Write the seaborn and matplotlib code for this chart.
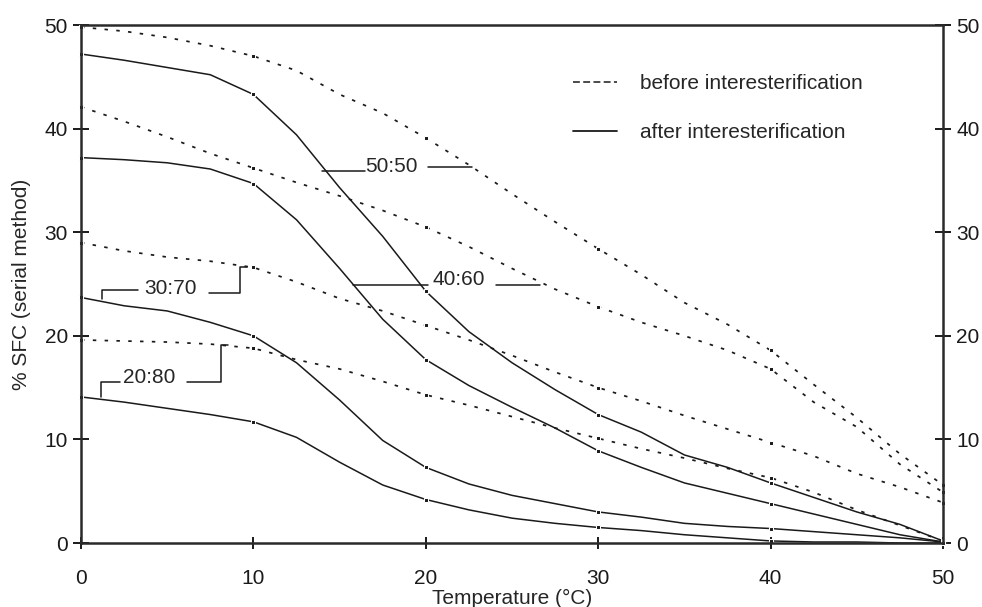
import pandas as pd
import seaborn as sns
import matplotlib.pyplot as plt
from matplotlib.lines import Line2D

# Temperatura (°C) e % SFC
temps = [0, 2.5, 5, 7.5, 10, 12.5, 15, 17.5, 20, 22.5, 25,
         27.5, 30, 32.5, 35, 37.5, 40, 42.5, 45, 47.5, 50]

# antes da interesterificação
before_50_50 = [49.8, 49.4, 48.8, 48.0, 47.0, 45.6, 43.3, 41.5, 39.1, 36.5, 33.7,
                31.0, 28.4, 25.9, 23.2, 21.1, 18.6, 15.3, 12.1, 8.6, 5.6]
before_40_60 = [42.1, 40.7, 39.2, 37.6, 36.2, 34.8, 33.5, 32.1, 30.5, 28.6, 26.5,
                24.5, 22.8, 21.3, 20.0, 18.6, 16.8, 13.6, 11.2, 7.6, 4.9]
before_30_70 = [29.0, 28.2, 27.6, 27.2, 26.6, 25.2, 23.6, 22.4, 21.0, 19.6, 18.1,
                16.5, 15.0, 13.7, 12.3, 11.0, 9.7, 8.4, 6.7, 5.4, 3.9]
before_20_80 = [19.6, 19.5, 19.4, 19.2, 18.8, 17.7, 16.8, 15.6, 14.3, 13.3, 12.2,
                11.1, 10.1, 9.1, 8.2, 7.2, 6.3, 4.9, 3.2, 1.7, 0.2]

# depois da interesterificação
after_50_50 = [47.2, 46.6, 45.9, 45.2, 43.3, 39.4, 34.3, 29.6, 24.3, 20.4, 17.4,
               14.8, 12.4, 10.7, 8.5, 7.3, 5.8, 4.4, 3.0, 1.8, 0.2]
after_40_60 = [37.2, 37.0, 36.7, 36.1, 34.7, 31.2, 26.5, 21.6, 17.7, 15.2, 13.1,
               11.1, 8.9, 7.3, 5.8, 4.8, 3.8, 2.8, 1.8, 0.8, 0.1]
after_30_70 = [23.7, 22.9, 22.4, 21.3, 20.0, 17.4, 13.8, 9.9, 7.3, 5.7, 4.6,
               3.8, 3.0, 2.5, 1.9, 1.6, 1.4, 1.1, 0.8, 0.5, 0.1]
after_20_80 = [14.1, 13.6, 13.0, 12.4, 11.7, 10.2, 7.8, 5.6, 4.2, 3.2, 2.4,
               1.9, 1.5, 1.2, 0.8, 0.5, 0.2, 0.1, 0.1, 0.0, 0.0]

before = [before_50_50, before_40_60, before_30_70, before_20_80]
after = [after_50_50, after_40_60, after_30_70, after_20_80]

sns.set_style("ticks")
plt.rcParams['font.family'] = ['Liberation Sans', 'DejaVu Sans']

fig, ax = plt.subplots(figsize=(9.82, 6.07), dpi=100)
fig.subplots_adjust(left=0.0825, right=0.9603, top=0.9588, bottom=0.1054)

ink = '#1a1a1a'
for vals in before:
    df = pd.DataFrame({"temp": temps, "sfc": vals})
    sns.lineplot(data=df, x="temp", y="sfc", ax=ax, color=ink, lw=1.25,
                 linestyle=(0, (2.0, 4.8)), marker='s', markersize=2.8,
                 markevery=4, clip_on=False)
for vals in after:
    df = pd.DataFrame({"temp": temps, "sfc": vals})
    sns.lineplot(data=df, x="temp", y="sfc", ax=ax, color=ink, lw=1.1,
                 marker='s', markersize=2.4, markevery=4, clip_on=False)

# rótulos das misturas com linhas de chamada
fs = 15
ax.text(18.0, 36.3, "50:50", ha='center', va='center', fontsize=fs)
ax.plot([14.0, 16.5], [35.9, 35.9], color=ink, lw=1.1)
ax.plot([20.1, 22.7], [36.3, 36.3], color=ink, lw=1.1)

ax.text(21.9, 25.4, "40:60", ha='center', va='center', fontsize=fs)
ax.plot([15.8, 20.1], [24.9, 24.9], color=ink, lw=1.1)
ax.plot([24.1, 26.6], [24.9, 24.9], color=ink, lw=1.1)

ax.text(5.2, 24.6, "30:70", ha='center', va='center', fontsize=fs)
ax.plot([1.2, 1.2, 3.3], [23.6, 24.4, 24.4], color=ink, lw=1.1)
ax.plot([7.4, 9.2, 9.2, 9.6], [24.1, 24.1, 26.6, 26.6], color=ink, lw=1.1)

ax.text(3.95, 16.0, "20:80", ha='center', va='center', fontsize=fs)
ax.plot([1.16, 1.16, 2.26], [14.1, 15.5, 15.5], color=ink, lw=1.1)
ax.plot([6.15, 8.12, 8.12, 8.5], [15.5, 15.5, 19.1, 19.1], color=ink, lw=1.1)

# legenda
handles = [Line2D([], [], color=ink, lw=1.1, linestyle=(0, (4.5, 2.2))),
           Line2D([], [], color=ink, lw=1.3)]
ax.legend(handles, ["before interesterification", "after interesterification"],
          loc='upper left', bbox_to_anchor=(0.571, 0.905), frameon=False,
          fontsize=fs, handlelength=2.1, handletextpad=1.1, labelspacing=1.45,
          borderpad=0, borderaxespad=0)

ax.set_xlim(0, 50)
ax.set_ylim(0, 50)
ax.set_xticks([0, 10, 20, 30, 40, 50])
ax.set_yticks([0, 10, 20, 30, 40, 50])
ax.tick_params(axis='y', direction='inout', length=11, width=1.4,
               labelsize=fs, right=True, labelright=True, pad=4, colors=ink)
ax.tick_params(axis='x', direction='inout', length=9, width=1.4,
               labelsize=fs, pad=14, colors=ink)
for s in ax.spines.values():
    s.set_visible(True)
    s.set_linewidth(1.8)
    s.set_color('#2a2a2a')

ax.set_xlabel("Temperature (°C)", fontsize=fs, labelpad=1)
ax.set_ylabel("% SFC (serial method)", fontsize=fs, labelpad=10)

plt.savefig("out.png", dpi=100)
